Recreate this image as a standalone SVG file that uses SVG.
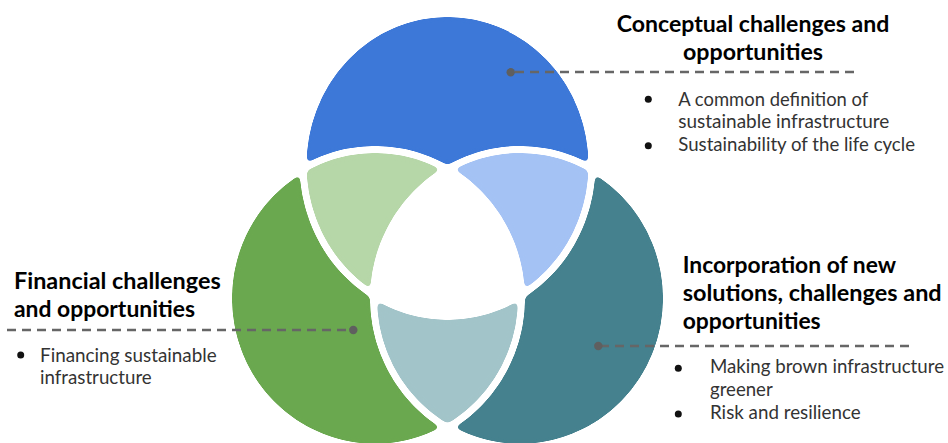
<svg xmlns="http://www.w3.org/2000/svg" width="948" height="443" viewBox="0 0 948 443">
  <style>
    .title { font-family: "Lato", "Liberation Sans", sans-serif; font-weight: 700; font-size: 22px; fill: #000; }
    .body { font-family: "Lato", "Liberation Sans", sans-serif; font-size: 19px; fill: #333; }
    .bullet { fill: #111; }
    .cut { fill: none; stroke: #000; stroke-width: 7; }
    .lead { fill: none; stroke: #666; stroke-width: 2.3; stroke-dasharray: 9 6; }
    .dot { fill: #5f5f5f; }
  </style>
  <defs>
    <ellipse id="eT" cx="447.5" cy="165" rx="144.5" ry="151.5"/>
    <ellipse id="eBL" cx="375" cy="298.4" rx="146.5" ry="148.9"/>
    <ellipse id="eBR" cx="520" cy="298.4" rx="146.5" ry="148.9"/>
    <clipPath id="cBL"><use href="#eBL"/></clipPath>
    <clipPath id="cBR"><use href="#eBR"/></clipPath>
    <g id="cuts">
      <use href="#eT" class="cut"/>
      <use href="#eBL" class="cut"/>
      <use href="#eBR" class="cut"/>
    </g>
    <filter id="rnd" filterUnits="userSpaceOnUse" x="0" y="0" width="948" height="443">
      <feGaussianBlur in="SourceGraphic" stdDeviation="2.4"/>
      <feComponentTransfer><feFuncA type="linear" slope="10" intercept="-4.5"/></feComponentTransfer>
    </filter>
    <mask id="mT" maskUnits="userSpaceOnUse" x="0" y="0" width="948" height="443">
      <use href="#eT" fill="#fff"/><use href="#eBL" fill="#000"/><use href="#eBR" fill="#000"/><use href="#cuts"/>
    </mask>
    <mask id="mBL" maskUnits="userSpaceOnUse" x="0" y="0" width="948" height="443">
      <use href="#eBL" fill="#fff"/><use href="#eT" fill="#000"/><use href="#eBR" fill="#000"/><use href="#cuts"/>
    </mask>
    <mask id="mBR" maskUnits="userSpaceOnUse" x="0" y="0" width="948" height="443">
      <use href="#eBR" fill="#fff"/><use href="#eT" fill="#000"/><use href="#eBL" fill="#000"/><use href="#cuts"/>
    </mask>
    <mask id="mTBL" maskUnits="userSpaceOnUse" x="0" y="0" width="948" height="443">
      <use href="#eT" fill="#fff" clip-path="url(#cBL)"/><use href="#eBR" fill="#000"/><use href="#cuts"/>
    </mask>
    <mask id="mTBR" maskUnits="userSpaceOnUse" x="0" y="0" width="948" height="443">
      <use href="#eT" fill="#fff" clip-path="url(#cBR)"/><use href="#eBL" fill="#000"/><use href="#cuts"/>
    </mask>
    <mask id="mBLBR" maskUnits="userSpaceOnUse" x="0" y="0" width="948" height="443">
      <use href="#eBL" fill="#fff" clip-path="url(#cBR)"/><use href="#eT" fill="#000"/><use href="#cuts"/>
    </mask>
  </defs>
  <rect width="948" height="443" fill="#fff"/>

  <g id="node-conceptual-shape" filter="url(#rnd)"><rect width="948" height="443" fill="#3c78d8" mask="url(#mT)"/></g>
  <g id="node-financial-shape" filter="url(#rnd)"><rect width="948" height="443" fill="#6aa84f" mask="url(#mBL)"/></g>
  <g id="node-incorporation-shape" filter="url(#rnd)"><rect width="948" height="443" fill="#45818e" mask="url(#mBR)"/></g>
  <g id="overlap-conceptual-financial" filter="url(#rnd)"><rect width="948" height="443" fill="#b6d7a8" mask="url(#mTBL)"/></g>
  <g id="overlap-conceptual-incorporation" filter="url(#rnd)"><rect width="948" height="443" fill="#a4c2f4" mask="url(#mTBR)"/></g>
  <g id="overlap-financial-incorporation" filter="url(#rnd)"><rect width="948" height="443" fill="#a2c4c9" mask="url(#mBLBR)"/></g>

  <g id="connectors">
    <line class="lead" x1="512" y1="72" x2="858" y2="72" stroke-dashoffset="-3"/>
    <circle class="dot" cx="510.7" cy="72.3" r="4.2"/>
    <line class="lead" x1="7" y1="330" x2="352" y2="330"/>
    <circle class="dot" cx="353.3" cy="330" r="4.2"/>
    <line class="lead" x1="600" y1="346" x2="914" y2="346"/>
    <circle class="dot" cx="598.3" cy="346" r="4.2"/>
  </g>

  <g id="node-conceptual-text">
    <text class="title" x="753" y="32.3" text-anchor="middle" textLength="272.6" lengthAdjust="spacingAndGlyphs">Conceptual challenges and</text>
    <text class="title" x="753" y="60" text-anchor="middle" textLength="140" lengthAdjust="spacingAndGlyphs">opportunities</text>
    <circle class="bullet" cx="648.3" cy="99.3" r="3.5"/>
    <circle class="bullet" cx="648.3" cy="145.7" r="3.5"/>
    <text class="body" x="678.3" y="106" textLength="190" lengthAdjust="spacingAndGlyphs">A common definition of</text>
    <text class="body" x="678.3" y="128.3" textLength="211" lengthAdjust="spacingAndGlyphs">sustainable infrastructure</text>
    <text class="body" x="678.3" y="150.7" textLength="236.7" lengthAdjust="spacingAndGlyphs">Sustainability of the life cycle</text>
  </g>

  <g id="node-incorporation-text">
    <text class="title" x="682.7" y="273.3" textLength="213.3" lengthAdjust="spacingAndGlyphs">Incorporation of new</text>
    <text class="title" x="682.7" y="301" textLength="259" lengthAdjust="spacingAndGlyphs">solutions, challenges and</text>
    <text class="title" x="682.7" y="329.3" textLength="138" lengthAdjust="spacingAndGlyphs">opportunities</text>
    <circle class="bullet" cx="678.3" cy="368.3" r="3.5"/>
    <circle class="bullet" cx="678.3" cy="414" r="3.5"/>
    <text class="body" x="710" y="373.3" textLength="234" lengthAdjust="spacingAndGlyphs">Making brown infrastructure</text>
    <text class="body" x="710" y="396" textLength="62.7" lengthAdjust="spacingAndGlyphs">greener</text>
    <text class="body" x="710" y="419" textLength="150.7" lengthAdjust="spacingAndGlyphs">Risk and resilience</text>
  </g>

  <g id="node-financial-text">
    <text class="title" x="14" y="289.3" textLength="206.7" lengthAdjust="spacingAndGlyphs">Financial challenges</text>
    <text class="title" x="14" y="316.7" textLength="181" lengthAdjust="spacingAndGlyphs">and opportunities</text>
    <circle class="bullet" cx="20.7" cy="355" r="3.5"/>
    <text class="body" x="40" y="361.7" textLength="176.7" lengthAdjust="spacingAndGlyphs">Financing sustainable</text>
    <text class="body" x="40" y="384.3" textLength="111.7" lengthAdjust="spacingAndGlyphs">infrastructure</text>
  </g>
</svg>
